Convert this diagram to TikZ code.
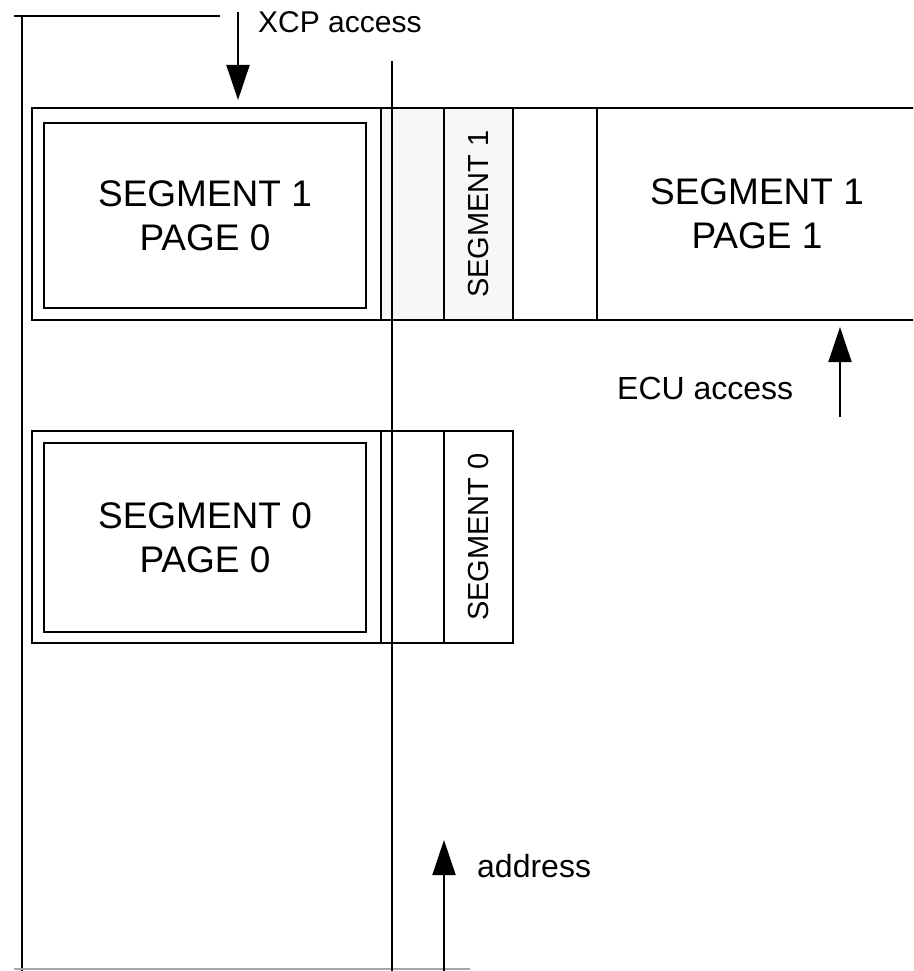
\documentclass[tikz,border=0pt]{standalone}
\usepackage{fontspec}
\setmainfont{Liberation Sans}
\usetikzlibrary{arrows.meta}
\begin{document}
\begin{tikzpicture}[x=1pt,y=-1pt,
  rule/.style={line width=2pt},
  cell/.style={draw, line width=2pt, inner sep=0pt, outer sep=0pt, anchor=north west},
  pagetext/.style={font=\fontsize{37}{44}\selectfont, align=center},
  segtext/.style={font=\fontsize{29}{35}\selectfont, rotate=90},
  tag/.style={font=\fontsize{32}{38}\selectfont, anchor=west, inner sep=0pt},
  access/.style={line width=2pt, -{Triangle[width=23pt,length=35pt]}}]
\clip (0,0) rectangle (913,971);

% frame lines of the address range
\draw[rule] (14,16) -- (220,16);
\draw[rule] (22,16) -- (22,975);
\draw[line width=2pt, black!35] (14,969) -- (470,969);

% segment 1 row
\node[cell, fill=black!3, minimum width=63pt, minimum height=212pt] (s1gap) at (381,108) {};
\node[cell, fill=black!3, minimum width=69pt, minimum height=212pt] (s1seg) at (444,108) {};
\node[segtext] at (s1seg.center) {SEGMENT 1};
\node[cell, minimum width=84pt, minimum height=212pt] (s1mid) at (513,108) {};
\node[cell, minimum width=340pt, minimum height=212pt] (s1p1) at (597,108) {};
\node[pagetext] at (757,214) {SEGMENT 1\\PAGE 1};
\node[cell, minimum width=349pt, minimum height=212pt] (s1p0) at (32,108) {};
\node[cell, minimum width=322pt, minimum height=185pt] (s1p0in) at (44,123) {};
\node[pagetext] at (s1p0in.center) {SEGMENT 1\\PAGE 0};

% segment 0 row
\node[cell, minimum width=63pt, minimum height=212pt] (s0gap) at (381,431) {};
\node[cell, minimum width=69pt, minimum height=212pt] (s0seg) at (444,431) {};
\node[segtext] at (s0seg.center) {SEGMENT 0};
\node[cell, minimum width=349pt, minimum height=212pt] (s0p0) at (32,431) {};
\node[cell, minimum width=322pt, minimum height=189pt] (s0p0in) at (44,443) {};
\node[pagetext] at (s0p0in.center) {SEGMENT 0\\PAGE 0};

% address axis
\draw[rule] (392,61) -- (392,975);

% access arrows and labels
\coordinate (xcpfrom) at (238,12);
\coordinate (xcpto) at (238,100);
\draw[access] (xcpfrom) -- (xcpto);
\node[tag, font=\fontsize{30}{36}\selectfont] (xcp) at (258,22) {XCP access};

\coordinate (ecufrom) at (840,417);
\coordinate (ecuto) at (840,327);
\draw[access] (ecufrom) -- (ecuto);
\node[tag] (ecu) at (617,388) {ECU access};

\coordinate (addrfrom) at (444,975);
\coordinate (addrto) at (444,840);
\draw[access] (addrfrom) -- (addrto);
\node[tag] (addr) at (477,866) {address};
\end{tikzpicture}
\end{document}
